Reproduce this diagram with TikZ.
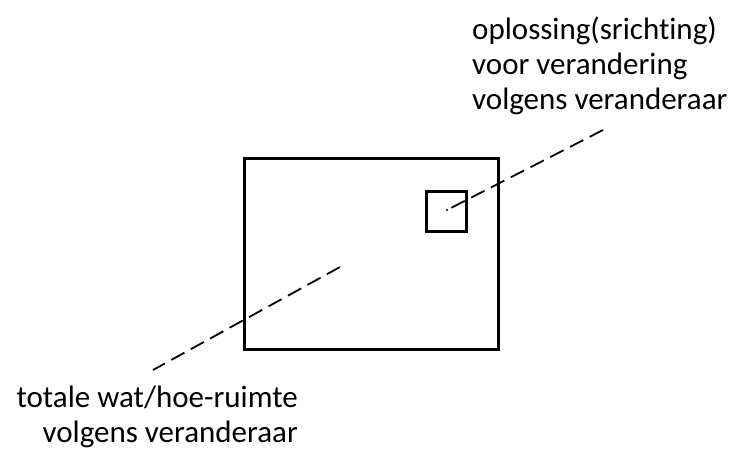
\documentclass[tikz,border=0pt]{standalone}
\usepackage{fontspec}
\setmainfont{Carlito}[Ligatures=NoCommon]
\usepackage{tikz}
\usetikzlibrary{positioning,calc}

\begin{document}
\begin{tikzpicture}[x=1pt, y=-1pt,
  box/.style={rectangle, draw, line width=2.6pt, inner sep=0pt},
  lbl/.style={inner sep=0pt, font=\fontsize{31}{35}\selectfont},
  lead/.style={line width=1.8pt, dash pattern=on 15pt off 7.2pt}
]
\useasboundingbox (0,0) rectangle (734,453);
\node[box, minimum width=254pt, minimum height=191pt, anchor=north west] (ruimte) at (243,157) {};
\node[box, minimum width=40pt, minimum height=40pt, anchor=north west] (opl) at (425,190) {};
\coordinate (dot) at (447,210);
\coordinate (ruimtept) at (340,267);
\fill (dot) circle (1.2pt);

\node[lbl, align=left, anchor=north west] (optxt) at (472,17) {oplossing(srichting)\\voor verandering\\volgens veranderaar};
\node[lbl, align=right, anchor=north east] (totxt) at (298,386) {totale wat/hoe-ruimte\\volgens veranderaar};

\coordinate (optip) at (603,130);
\coordinate (totip) at (153,370);
\draw[lead, shorten <=5pt] (dot) -- (optip);
\draw[lead] (ruimtept) -- (totip);
\end{tikzpicture}
\end{document}
